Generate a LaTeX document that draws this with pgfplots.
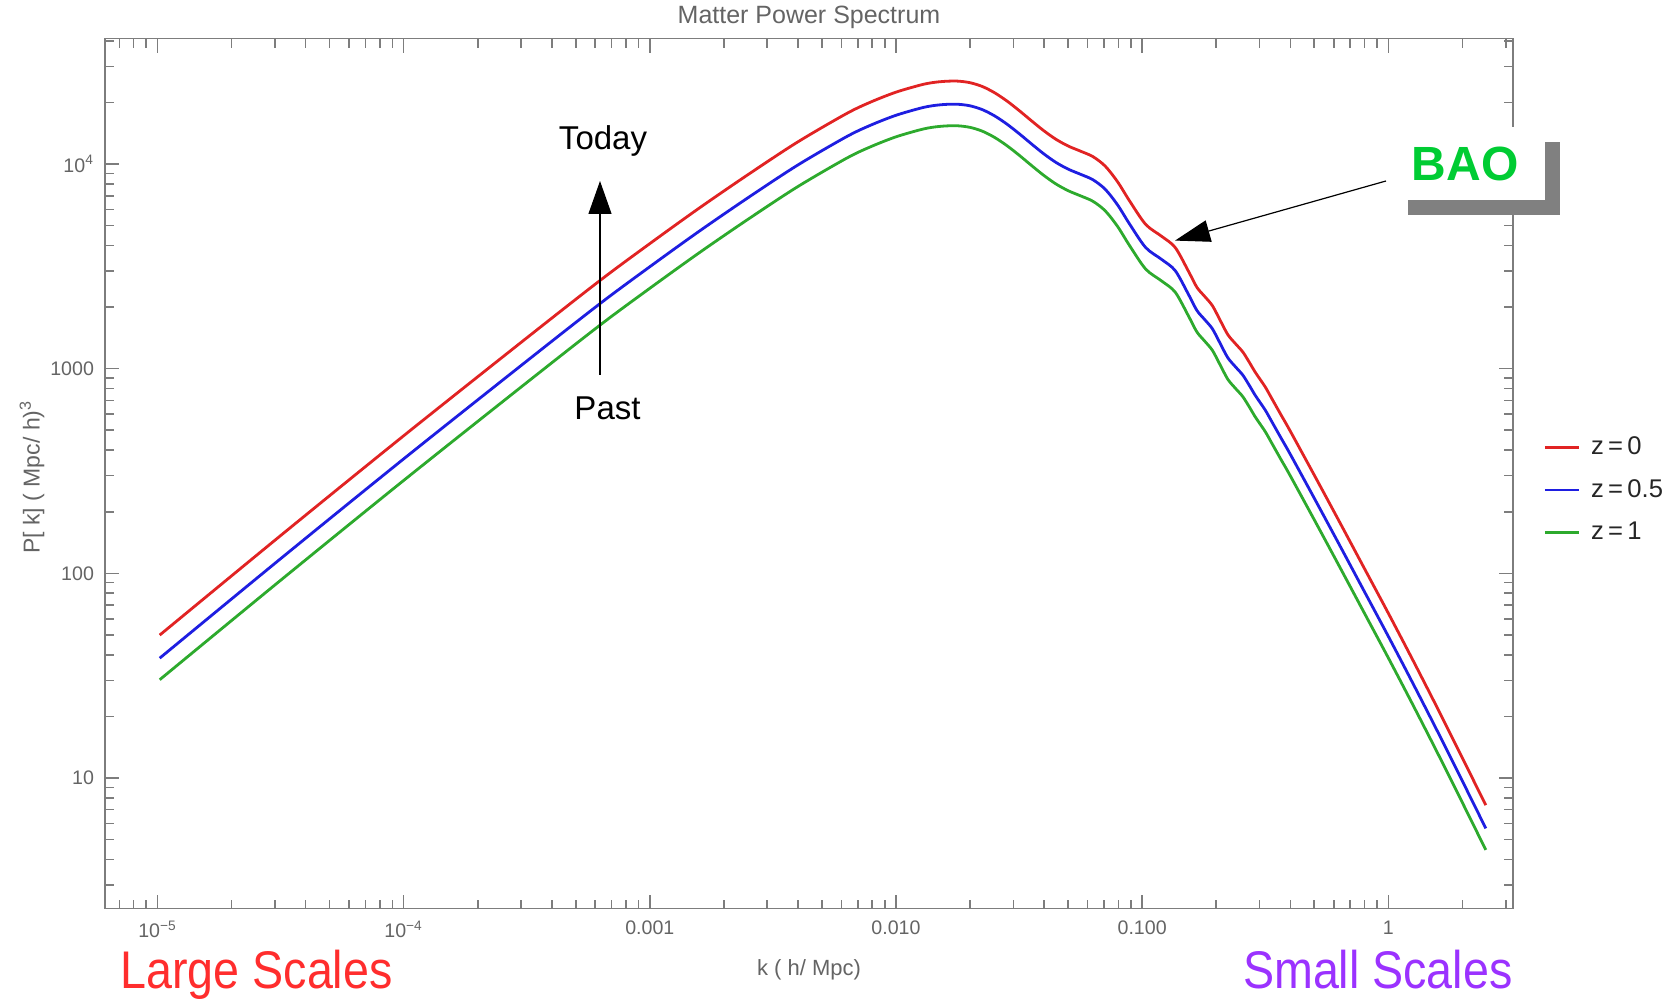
\documentclass[border=0pt]{standalone}
\usepackage{pgfplots}
\pgfplotsset{compat=1.18}
\usepackage{pgfplotstable}
\usepackage{fontspec}
\setmainfont{Liberation Sans}
\newfontfamily\narrowfont[FakeStretch=0.88]{Liberation Sans}
\usetikzlibrary{arrows.meta}
\definecolor{cred}{RGB}{225,35,35}
\definecolor{cblue}{RGB}{30,30,225}
\definecolor{cgreen}{RGB}{45,170,45}
\definecolor{axgray}{RGB}{125,125,125}
\definecolor{lblgray}{RGB}{100,100,100}
\definecolor{scred}{RGB}{255,45,45}
\definecolor{scpurple}{RGB}{155,50,255}
\definecolor{baogreen}{RGB}{0,204,51}
\definecolor{shadowgray}{RGB}{128,128,128}

% k, P(z=0), P(z=0.5), P(z=1)
\pgfplotstableread{
k r b g
1.021e-5 49.9 38.5 30.2
3.162e-5 152.8 117.8 92.4
1e-4 469.9 362.3 284.3
3.162e-4 1413 1089 854.9
6.310e-4 2710 2089 1640
1e-3 4083 3148 2470
1.585e-3 6081 4688 3679
2.512e-3 8892 6856 5380
3.981e-3 12794 9864 7740
6.310e-3 17660 13616 10684
7.943e-3 20137 15526 12183
0.01 22439 17300 13576
0.01259 24322 18752 14715
0.01413 25003 19277 15127
0.01585 25351 19546 15337
0.01778 25410 19591 15373
0.01995 24974 19255 15109
0.02239 23933 18452 14479
0.02512 22310 17201 13498
0.02818 20347 15688 12310
0.03162 18264 14082 11050
0.03548 16276 12549 9847
0.03981 14555 11222 8806
0.04467 13199 10176 7985
0.05012 12232 9431 7400
0.05623 11548 8904 6987
0.06310 10864 8376 6573
0.07079 9761 7526 5905
0.07943 8195 6318 4958
0.08913 6569 5065 3974
0.1034 5065 3905 3064
0.1200 4432 3417 2681
0.1363 3905 3011 2363
0.1549 2961 2283 1791
0.1669 2497 1925 1511
0.1799 2247 1732 1359
0.1930 2030 1565 1228
0.2070 1732 1335 1048
0.2228 1467 1131 887.5
0.2399 1320 1018 798.6
0.2567 1204 928.3 728.4
0.2748 1056 814.2 638.9
0.2871 966.1 744.9 584.5
0.2999 894.4 689.6 541.1
0.3170 810.1 624.6 490.1
0.3350 720.3 555.4 435.8
0.3652 599.2 462.0 362.5
0.3981 499.5 385.1 302.2
0.5012 300.6 231.8 181.9
0.6310 179.9 138.7 108.8
0.7943 107.2 82.65 64.86
1 63.83 49.21 38.62
1.259 37.58 28.97 22.74
1.585 21.88 16.87 13.24
1.995 12.59 9.71 7.62
2.489 7.36 5.67 4.45
}\pktab

\begin{document}
\begin{tikzpicture}
\path[use as bounding box] (0,0) rectangle (840pt,499.5pt);
\begin{axis}[
  at={(52.5pt,45.2pt)}, anchor=south west,
  scale only axis, width=704pt, height=435pt,
  xmode=log, ymode=log,
  xmin=6.12e-6, xmax=3.21, ymin=2.3, ymax=41000,
  axis line style={draw=axgray, line width=0.9pt},
  tick style={draw=axgray, line width=0.8pt},
  major tick length=7pt, minor tick length=4.5pt,
  tick align=inside,
  xtick={1e-5,1e-4,1e-3,1e-2,1e-1,1},
  xticklabels={10\textsuperscript{−5},10\textsuperscript{−4},0.001,0.010,0.100,1},
  ytick={10,100,1000,10000},
  yticklabels={10,100,1000,10\textsuperscript{4}},
  minor xtick={7e-6,8e-6,9e-6,
    2e-5,3e-5,4e-5,5e-5,6e-5,7e-5,8e-5,9e-5,
    2e-4,3e-4,4e-4,5e-4,6e-4,7e-4,8e-4,9e-4,
    2e-3,3e-3,4e-3,5e-3,6e-3,7e-3,8e-3,9e-3,
    0.02,0.03,0.04,0.05,0.06,0.07,0.08,0.09,
    0.2,0.3,0.4,0.5,0.6,0.7,0.8,0.9,2,3},
  minor ytick={3,4,5,6,7,8,9,20,30,40,50,60,70,80,90,
    200,300,400,500,600,700,800,900,
    2000,3000,4000,5000,6000,7000,8000,9000,20000,30000,40000},
  tick label style={font=\fontsize{9.8}{11}\selectfont, text=lblgray},
  xticklabel style={yshift=-2.5pt},
  yticklabel style={xshift=-2pt},
  title={Matter Power Spectrum},
  title style={at={(axis description cs:0.5,1.011)}, anchor=center,
    font=\fontsize{12.5}{14}\selectfont, text=lblgray},
  xlabel={k ( h/ Mpc)},
  xlabel style={at={(axis description cs:0.5,-0.0706)}, anchor=center,
    font=\fontsize{11}{13}\selectfont, text=lblgray},
  ylabel={P[ k] ( Mpc/ h)\textsuperscript{3}},
  ylabel style={at={(axis description cs:-0.0518,0.496)}, anchor=center,
    font=\fontsize{11.5}{13}\selectfont, text=lblgray},
  legend style={at={(axis description cs:1.0213,0.4811)}, anchor=west,
    draw=none, fill=none, inner xsep=0pt, inner ysep=0pt,
    row sep=6.3pt, column sep=3.5pt,
    nodes={text height=9pt, text depth=2pt},
    font=\fontsize{12.8}{15}\selectfont, text=black!85},
  legend cell align=left,
  legend image code/.code={\draw[#1] (0pt,0pt) -- (17pt,0pt);},
]
\addplot[cred, no marks, smooth, line width=1.4pt] table[x=k, y=r] {\pktab};
\addlegendentry{z\,=\,0}
\addplot[cblue, no marks, smooth, line width=1.4pt] table[x=k, y=b] {\pktab};
\addlegendentry{z\,=\,0.5}
\addplot[cgreen, no marks, smooth, line width=1.4pt] table[x=k, y=g] {\pktab};
\addlegendentry{z\,=\,1}
\end{axis}

% Today / Past arrow
\draw[line width=0.6pt, -{Triangle[length=16.5pt, width=11.5pt]}] (300pt,312pt) -- (300pt,409pt);
\node[font=\fontsize{16.5}{19}\selectfont] at (301.5pt,429pt) {Today};
\node[font=\fontsize{16.5}{19}\selectfont] at (303.75pt,295.5pt) {Past};

% BAO box
\fill[shadowgray] (704pt,392pt) rectangle (780pt,428.5pt);
\fill[white] (696.5pt,399.5pt) rectangle (772.5pt,436pt);
\node[font=\fontsize{24}{28}\selectfont\bfseries, text=baogreen] at (732.5pt,417.5pt) {BAO};
\draw[line width=0.6pt, -{Triangle[length=17.5pt, width=11pt]}] (693pt,409pt) -- (587.5pt,379.2pt);

% scale labels
\node[anchor=base west, inner sep=0pt, font=\narrowfont\fontsize{26.5}{30}\selectfont, text=scred] at (60pt,5pt) {Large Scales};
\node[anchor=base east, inner sep=0pt, font=\narrowfont\fontsize{26.5}{30}\selectfont, text=scpurple] at (756.5pt,5pt) {Small Scales};
\end{tikzpicture}
\end{document}
